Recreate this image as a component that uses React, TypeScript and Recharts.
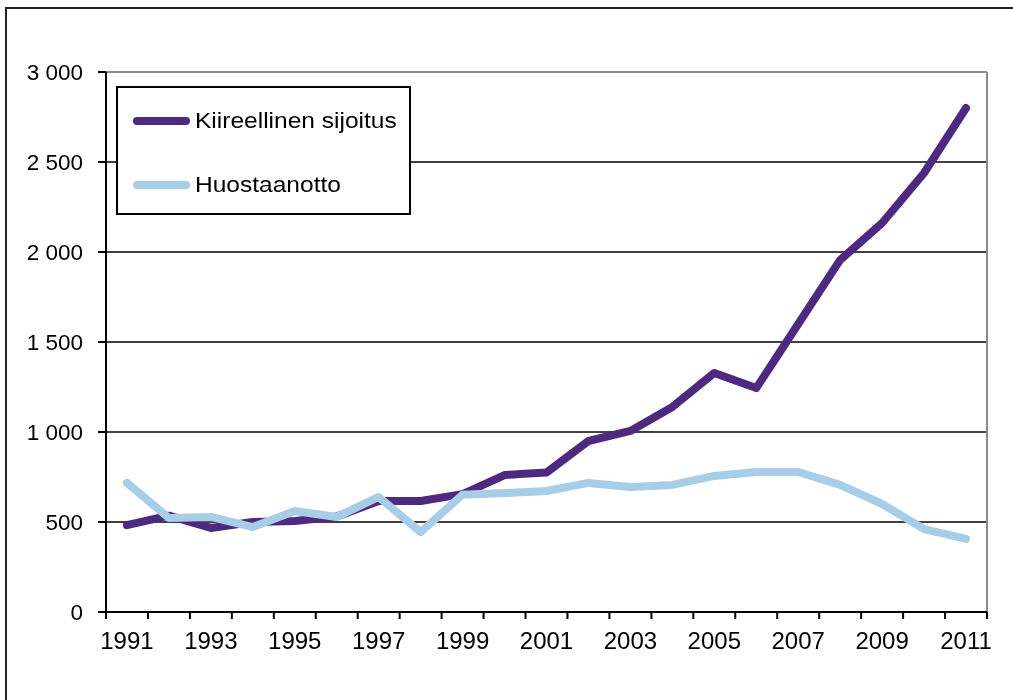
import { LineChart, Line, XAxis, YAxis, CartesianGrid, Legend, ReferenceLine } from 'recharts';

const YEARS = [1991, 1992, 1993, 1994, 1995, 1996, 1997, 1998, 1999, 2000, 2001, 2002, 2003, 2004, 2005, 2006, 2007, 2008, 2009, 2010, 2011];
const KIIREELLINEN = [483, 535, 467, 500, 505, 530, 617, 617, 655, 761, 775, 950, 1006, 1139, 1328, 1244, 1600, 1956, 2161, 2439, 2800];
const HUOSTAANOTTO = [717, 522, 528, 472, 561, 528, 639, 444, 652, 661, 672, 717, 694, 706, 756, 778, 778, 706, 600, 461, 406];
const Y_TICKS = [0, 500, 1000, 1500, 2000, 2500, 3000];
const X_LABELS = [1991, 1993, 1995, 1997, 1999, 2001, 2003, 2005, 2007, 2009, 2011];

const SERIES = [
  { key: 'kiireellinen', name: 'Kiireellinen sijoitus', color: '#4d2a80' },
  { key: 'huostaanotto', name: 'Huostaanotto', color: '#a8cde6' },
];

const data = YEARS.map((year, i) => ({
  year,
  kiireellinen: KIIREELLINEN[i],
  huostaanotto: HUOSTAANOTTO[i],
}));

const FONT = '"Liberation Sans", Arial, sans-serif';
const CHART_W = 990;
const CHART_H = 680;
const Y_AXIS_W = 98;
const MARGIN = { top: 64, right: 11, bottom: 45, left: 0 };
const STEP = (CHART_W - Y_AXIS_W - MARGIN.right) / YEARS.length;

const fmt = (v: number) => String(v).replace(/\B(?=(\d{3})+(?!\d))/g, ' ');

const YearTick = (props: any) => {
  const { x, y, payload, index } = props;
  const half = STEP / 2;
  return (
    <g>
      <line x1={x - half} x2={x - half} y1={y} y2={y + 7} stroke="#000" strokeWidth={2} />
      {index === YEARS.length - 1 && (
        <line x1={x + half} x2={x + half} y1={y} y2={y + 7} stroke="#000" strokeWidth={2} />
      )}
      {X_LABELS.includes(payload.value) && (
        <text x={x} y={y + 29} dy="0.35em" textAnchor="middle" fontSize={24} fontFamily={FONT} fill="#000">
          {payload.value}
        </text>
      )}
    </g>
  );
};

const LegendBox = () => (
  <div
    style={{
      boxSizing: 'border-box',
      width: 295,
      height: 129,
      border: '2px solid #000',
      background: '#fff',
      paddingTop: 1,
      fontFamily: FONT,
    }}
  >
    {SERIES.map((s) => (
      <div key={s.key} style={{ height: 64, display: 'flex', alignItems: 'center', paddingLeft: 15 }}>
        <span style={{ display: 'inline-block', width: 57, height: 8, borderRadius: 4, background: s.color }} />
        <span
          style={{
            marginLeft: 5,
            fontSize: 22.5,
            color: '#000',
            display: 'inline-block',
            transform: 'scaleX(1.09)',
            transformOrigin: 'left center',
            whiteSpace: 'nowrap',
          }}
        >
          {s.name}
        </span>
      </div>
    ))}
  </div>
);

export default function App() {
  return (
    <div style={{ position: 'relative', width: CHART_W, height: CHART_H }}>
      <div
        style={{
          position: 'fixed',
          left: 5,
          top: 7,
          right: -20,
          bottom: -20,
          border: '2px solid #222',
          pointerEvents: 'none',
        }}
      />
      <LineChart width={CHART_W} height={CHART_H} data={data} margin={MARGIN}>
        <CartesianGrid horizontal vertical={false} stroke="#000" strokeWidth={1.5} />
        <XAxis
          dataKey="year"
          type="number"
          domain={[1990.5, 2011.5]}
          ticks={YEARS}
          interval={0}
          tickLine={false}
          tickSize={0}
          tickMargin={0}
          height={31}
          axisLine={{ stroke: '#000', strokeWidth: 2 }}
          tick={<YearTick />}
        />
        <YAxis
          domain={[0, 3000]}
          ticks={Y_TICKS}
          width={Y_AXIS_W}
          tickSize={8}
          tickMargin={15}
          tickFormatter={fmt}
          axisLine={{ stroke: '#000', strokeWidth: 2 }}
          tickLine={{ stroke: '#000', strokeWidth: 2 }}
          tick={{ fill: '#000', fontSize: 22.5, fontFamily: FONT }}
        />
        <ReferenceLine y={3000} stroke="#8a8a8a" strokeWidth={2} />
        <ReferenceLine x={2011.5} stroke="#8a8a8a" strokeWidth={2} />
        {SERIES.map((s) => (
          <Line
            key={s.key}
            type="linear"
            dataKey={s.key}
            name={s.name}
            stroke={s.color}
            strokeWidth={8}
            strokeLinecap="round"
            strokeLinejoin="round"
            dot={false}
            activeDot={false}
            isAnimationActive={false}
          />
        ))}
        <Legend
          layout="horizontal"
          verticalAlign="middle"
          align="center"
          content={<LegendBox />}
          wrapperStyle={{ left: 108, top: 78, width: 295, height: 129 }}
        />
      </LineChart>
    </div>
  );
}
